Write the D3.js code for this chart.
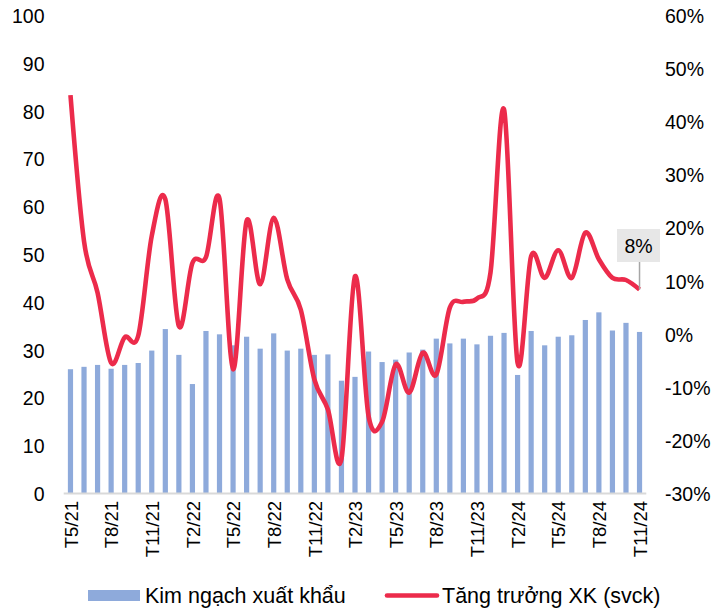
<!DOCTYPE html>
<html>
<head>
<meta charset="utf-8">
<script src="https://cdn.jsdelivr.net/npm/d3@7"></script>
<style>
body { margin: 0; background: #fff; }
svg text { font-family: "Liberation Sans", Arial, sans-serif; fill: #000; }
</style>
</head>
<body>
<script>
// thang / nam
var months = ["T5/21","T6/21","T7/21","T8/21","T9/21","T10/21","T11/21","T12/21",
	"T1/22","T2/22","T3/22","T4/22","T5/22","T6/22","T7/22","T8/22","T9/22","T10/22","T11/22","T12/22",
	"T1/23","T2/23","T3/23","T4/23","T5/23","T6/23","T7/23","T8/23","T9/23","T10/23","T11/23","T12/23",
	"T1/24","T2/24","T3/24","T4/24","T5/24","T6/24","T7/24","T8/24","T9/24","T10/24","T11/24"];
var tickMonths = ["T5/21","T8/21","T11/21","T2/22","T5/22","T8/22","T11/22","T2/23",
	"T5/23","T8/23","T11/23","T2/24","T5/24","T8/24","T11/24"];
// kim ngach xuat khau (truc trai)
var exportValue = [26, 26.5, 26.9, 26.1, 26.9, 27.3, 29.9, 34.4, 29.0, 22.9,
	34.0, 33.3, 31.0, 32.8, 30.3, 33.5, 29.9, 30.3, 29.0, 29.1,
	23.6, 24.4, 29.7, 27.5, 28.0, 29.5, 30.1, 32.4, 31.4, 32.4,
	31.2, 33.0, 33.6, 24.8, 34.0, 31.0, 32.8, 33.1, 36.3, 37.9,
	34.1, 35.7, 33.8];
// tang truong yoy, % (truc phai)
var growth = [45, 17.5, 7.8, -5.4, -0.6, -0.3, 18.5, 25.4, 1.5, 13.4,
	14.5, 25.5, -6.6, 21.3, 9.4, 21.9, 10.3, 4.6, -8.5, -14.2,
	-23.5, 10.9, -15.4, -16.5, -5.7, -11.0, -3.5, -7.6, 5.0, 6.1,
	6.7, 11.6, 42.3, -5.4, 14.7, 10.6, 15.8, 10.6, 19.1, 14.1,
	10.6, 10.2, 8.4];
var leftTicks = [0, 10, 20, 30, 40, 50, 60, 70, 80, 90, 100];
var rightTicks = [-30, -20, -10, 0, 10, 20, 30, 40, 50, 60];
var seriesNames = ["Kim ngạch xuất khẩu", "Tăng trưởng XK (svck)"];

var W = 712, H = 609;
var fs = "19.5px";
var svg = d3.select("body").append("svg").attr("width", W).attr("height", H);

var x = d3.scaleBand().domain(months).range([63.7, 646.3]);
var yL = d3.scaleLinear().domain([0, 100]).range([493.5, 15.5]);
var yR = d3.scaleLinear().domain([-30, 60]).range([493.5, 15.5]);
var cx = function(m) { return x(m) + x.bandwidth() / 2; };

// cot
svg.append("g").selectAll("rect").data(exportValue).enter().append("rect")
	.attr("x", function(d, i) { return cx(months[i]) - 2.6; })
	.attr("width", 5.2)
	.attr("y", function(d) { return yL(d); })
	.attr("height", function(d) { return yL(0) - yL(d); })
	.style("fill", "#8eaadb");

// truc ngang
svg.append("line").attr("x1", 63.7).attr("x2", 646.3)
	.attr("y1", yL(0)).attr("y2", yL(0))
	.style("stroke", "#d9d9d9").style("stroke-width", 2);

// duong tang truong
var line = d3.line()
	.x(function(d, i) { return cx(months[i]); })
	.y(function(d) { return yR(d); })
	.curve(d3.curveCardinal.tension(0));
svg.append("path").datum(growth).attr("d", line)
	.style("fill", "none").style("stroke", "#ec2b4b")
	.style("stroke-width", 4.6).style("stroke-linejoin", "round");

// truc trai, truc phai
var axL = svg.append("g").attr("transform", "translate(44.5,0)")
	.call(d3.axisLeft(yL).tickValues(leftTicks).tickSize(0).tickPadding(0));
var axR = svg.append("g").attr("transform", "translate(665,0)")
	.call(d3.axisRight(yR).tickValues(rightTicks).tickSize(0).tickPadding(0)
		.tickFormat(function(d) { return d + "%"; }));
[axL, axR].forEach(function(a) {
	a.select(".domain").remove();
	a.selectAll("text").style("font-size", fs).attr("dy", "0.36em");
});

// nhan thang
svg.append("g").selectAll("text").data(tickMonths).enter().append("text")
	.attr("transform", function(d) { return "translate(" + (cx(d) + 0.5) + ",501) rotate(-90)"; })
	.attr("text-anchor", "end").attr("dy", "0.36em")
	.style("font-size", "18.5px")
	.text(function(d) { return d; });

// nhan du lieu cuoi
var last = growth.length - 1;
var lx = cx(months[last]), ly = yR(growth[last]);
svg.append("line").attr("x1", lx).attr("x2", lx).attr("y1", ly).attr("y2", 262)
	.style("stroke", "#a6a6a6").style("stroke-width", 1.5);
svg.append("rect").attr("x", 617).attr("y", 229).attr("width", 43).attr("height", 33)
	.style("fill", "#e7e7e7");
svg.append("text").attr("x", 638.5).attr("y", 246).attr("dy", "0.36em")
	.attr("text-anchor", "middle").style("font-size", fs)
	.text(Math.round(growth[last]) + "%");

// chu giai
var lg = svg.append("g");
lg.append("rect").attr("x", 88).attr("y", 590).attr("width", 52).attr("height", 11)
	.style("fill", "#8eaadb");
lg.append("text").attr("x", 145).attr("y", 595.5).attr("dy", "0.36em")
	.style("font-size", "21.5px").text(seriesNames[0]);
lg.append("line").attr("x1", 387).attr("x2", 437).attr("y1", 595.5).attr("y2", 595.5)
	.style("stroke", "#ec2b4b").style("stroke-width", 4.6).style("stroke-linecap", "round");
lg.append("text").attr("x", 442).attr("y", 595.5).attr("dy", "0.36em")
	.style("font-size", "21.5px").text(seriesNames[1]);
</script>
</body>
</html>
